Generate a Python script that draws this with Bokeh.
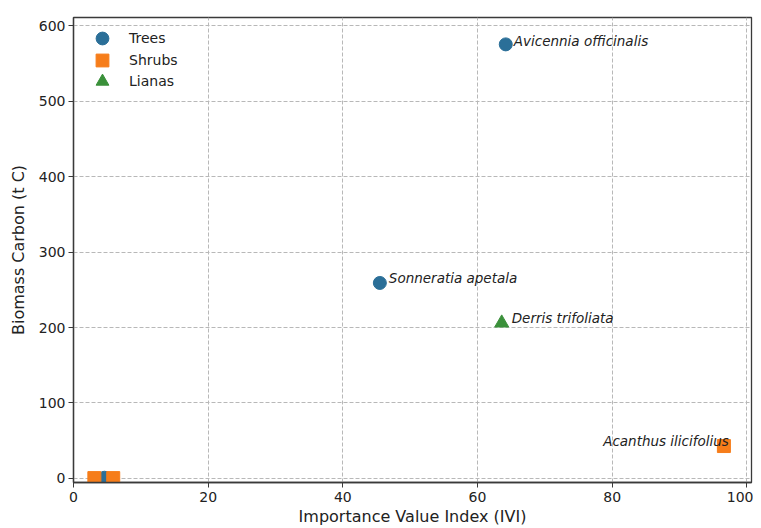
from bokeh.plotting import figure
from bokeh.models import Range1d, Legend, LegendItem, ColumnDataSource, FixedTicker
from bokeh.core.properties import value
from bokeh.embed import file_html
from bokeh.resources import INLINE

# ---- data ----
tree_ivi = [4.6, 45.5, 64.2]
tree_carbon = [1.0, 259.0, 575.0]
shrub_ivi = [3.1, 5.9, 96.6]
shrub_carbon = [0.5, 0.5, 43.0]
liana_ivi = [63.6]
liana_carbon = [206.0]

label_names = ["Avicennia officinalis", "Sonneratia apetala", "Derris trifoliata", "Acanthus ilicifolius"]
label_ivi = [64.2, 45.5, 63.6, 96.6]
label_carbon = [575.0, 259.0, 206.0, 43.0]

legend_labels = ["Trees", "Shrubs", "Lianas"]

x_ticks = [0, 20, 40, 60, 80, 100]
y_ticks = [0, 100, 200, 300, 400, 500, 600]

# ---- styles ----
BLUE = "#2b6f98"
ORANGE = "#f67d1a"
GREEN = "#3a903a"
FONT = "DejaVu Sans"
label_dx = [8, 9, 10, 5]
label_dy = [-3, -5, -5, -5]
label_align = ["left", "left", "left", "right"]

FRAME_W, FRAME_H = 678, 465

p = figure(frame_width=FRAME_W, frame_height=FRAME_H, output_backend="svg", toolbar_location=None,
           x_range=Range1d(0, 100.7), y_range=Range1d(-5.3, 610.6),
           min_border_left=73, min_border_top=17, min_border_right=2, min_border_bottom=10)

p.background_fill_color = "white"
p.border_fill_color = "white"
p.outline_line_color = "#3a3a3a"
p.outline_line_width = 1.3

for ax in (p.xaxis, p.yaxis):
    ax.axis_line_color = "#3a3a3a"
    ax.axis_line_width = 1.3
    ax.major_tick_line_color = "#3a3a3a"
    ax.major_tick_out = 5
    ax.major_tick_in = 0
    ax.minor_tick_line_color = None
    ax.major_label_text_font = FONT
    ax.major_label_text_font_size = "14px"
    ax.major_label_text_color = "#222222"
    ax.axis_label_text_font = FONT
    ax.axis_label_text_font_size = "16px"
    ax.axis_label_text_font_style = "normal"
    ax.axis_label_text_color = "#222222"

p.xaxis.ticker = FixedTicker(ticks=x_ticks)
p.yaxis.ticker = FixedTicker(ticks=y_ticks)
p.xaxis.axis_label = "Importance Value Index (IVI)"
p.yaxis.axis_label = "Biomass Carbon (t C)"
p.xaxis.major_label_standoff = 4
p.xaxis.axis_label_standoff = 2
p.yaxis.major_label_standoff = 3
p.yaxis.axis_label_standoff = 8

p.grid.grid_line_color = "#b8b8b8"
p.grid.grid_line_dash = "4 2"
p.grid.grid_line_width = 1

r_tree = p.scatter(tree_ivi, tree_carbon, marker="circle", size=13,
                   fill_color=BLUE, line_color=BLUE)
r_shrub = p.scatter(shrub_ivi, shrub_carbon, marker="square", size=13,
                    fill_color=ORANGE, line_color=ORANGE)
r_liana = p.scatter(liana_ivi, liana_carbon, marker="triangle", size=14,
                    fill_color=GREEN, line_color=GREEN)

src = ColumnDataSource(dict(x=label_ivi, y=label_carbon, t=label_names,
                            dx=label_dx, dy=label_dy, al=label_align))
p.text(x="x", y="y", text="t", x_offset="dx", y_offset="dy", text_align="al",
       source=src, text_font=value(FONT), text_font_style="italic",
       text_font_size="13.5px", text_color="#222222", text_baseline="alphabetic")

# one single-item legend per row so that the marker keys can be large
ROW_PITCH = 21.5
for i, (lab, rend) in enumerate(zip(legend_labels, [r_tree, r_shrub, r_liana])):
    lg = Legend(items=[LegendItem(label=lab, renderers=[rend])],
                location=(13, FRAME_H - 37 - ROW_PITCH * i))
    lg.margin = 0
    lg.padding = 0
    lg.glyph_width = 32
    lg.glyph_height = 32
    lg.label_height = 32
    lg.spacing = 0
    lg.label_standoff = 11
    lg.label_text_font = FONT
    lg.label_text_font_size = "14px"
    lg.label_text_color = "#222222"
    lg.background_fill_alpha = 0
    lg.border_line_alpha = 0
    p.add_layout(lg)

open("out.html", "w").write(file_html(p, INLINE))
